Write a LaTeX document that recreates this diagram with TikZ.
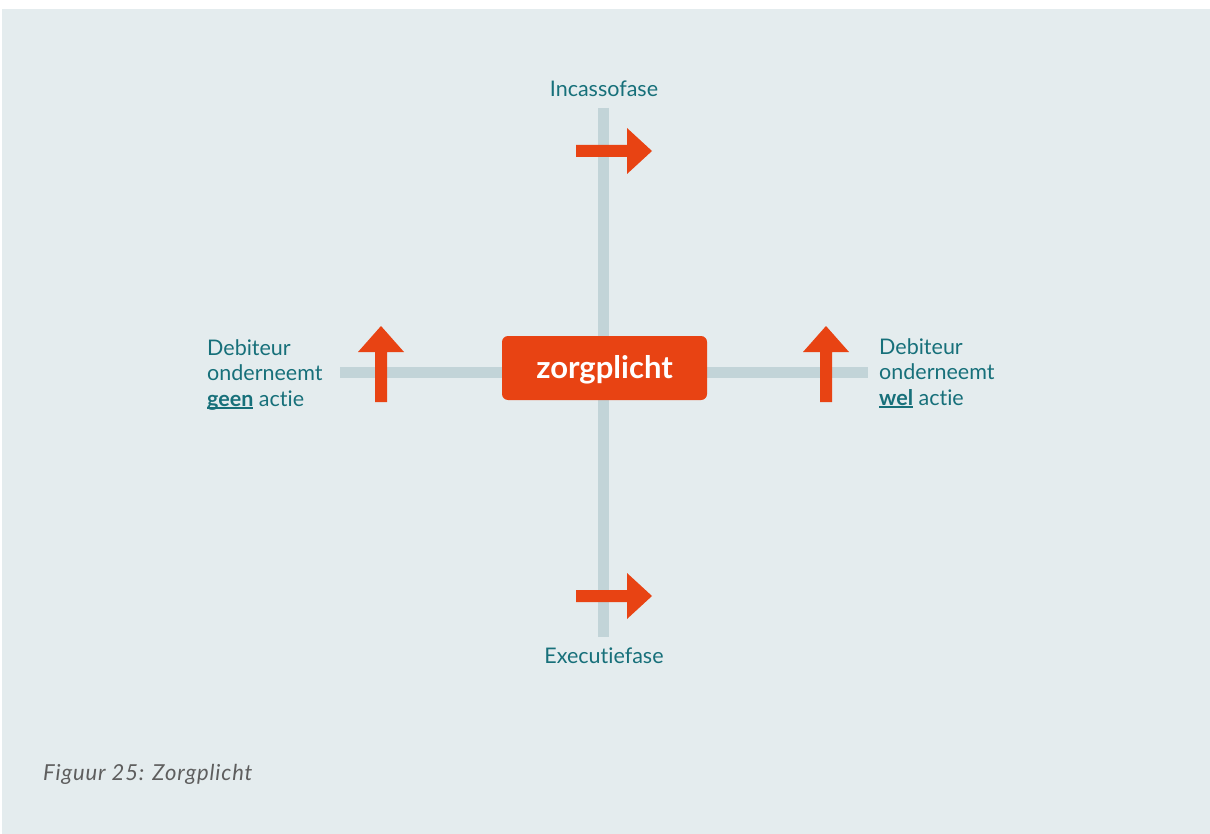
\documentclass[tikz,border=0pt]{standalone}
\usepackage{fontspec}
\setmainfont{Lato}[Ligatures=NoCommon]
\definecolor{bg}{HTML}{E4ECEE}
\definecolor{axis}{HTML}{C2D4D8}
\definecolor{accent}{HTML}{E84313}
\definecolor{teal}{HTML}{17707A}
\definecolor{capgray}{HTML}{5E5E5E}
% bold word with a rule just below the baseline
\newcommand\baseul[1]{\setbox0\hbox{\textbf{#1}}\rlap{\rule[-2.6pt]{\wd0}{1.6pt}}\box0\relax}
\begin{document}
\begin{tikzpicture}[x=1pt,y=-1pt,
  axisbar/.style={line width=11pt,draw=axis},
  label/.style={text=teal,font=\fontsize{21.5}{25.5}\selectfont,inner sep=0pt},
  flow/.style={fill=accent,draw=none}]
\useasboundingbox (0,0) rectangle (1210,834);
\fill[white] (0,0) rectangle (1210,834);
\fill[bg] (2,9) rectangle (1210,834);

% axes
\coordinate (vtop) at (603.5,108);
\coordinate (vbot) at (603.5,637);
\coordinate (hleft) at (340,372.5);
\coordinate (hright) at (868,372.5);
\draw[axisbar] (vtop) -- (vbot);
\draw[axisbar] (hleft) -- (hright);

% central box and its word
\node[fill=accent,rounded corners=6pt,minimum width=205pt,minimum height=64pt,
      inner sep=0pt] (core) at (604.5,368) {};
\node[text=white,font=\fontsize{31}{34}\bfseries\selectfont,inner sep=0pt]
  (coretext) at (604.5,370) {zorgplicht};

% horizontal arrows on the vertical axis
\foreach \yy in {151,596}{
  \fill[flow] (576,\yy-6) -- (627,\yy-6) -- (627,\yy-23) -- (652,\yy)
     -- (627,\yy+23) -- (627,\yy+6) -- (576,\yy+6) -- cycle;
}
% vertical arrows on the horizontal axis
\foreach \xx in {381,826}{
  \fill[flow] (\xx-6,402) -- (\xx-6,352) -- (\xx-23,352) -- (\xx,326)
     -- (\xx+23,352) -- (\xx+6,352) -- (\xx+6,402) -- cycle;
}

% labels
\node[label] (incasso) at (604,89) {Incassofase};
\node[label] (executie) at (604,656) {Executiefase};
\node[label,align=left,anchor=west] (geen) at (207,375)
  {Debiteur\\onderneemt\\\baseul{geen} actie};
\node[label,align=left,anchor=west] (wel) at (879,373)
  {Debiteur\\onderneemt\\\baseul{wel} actie};

% caption
\node[anchor=west,inner sep=0pt,text=capgray,font=\fontsize{22}{26}\itshape\selectfont\addfontfeature{LetterSpace=4}]
  (caption) at (43,774) {Figuur 25: Zorgplicht};
\end{tikzpicture}
\end{document}
